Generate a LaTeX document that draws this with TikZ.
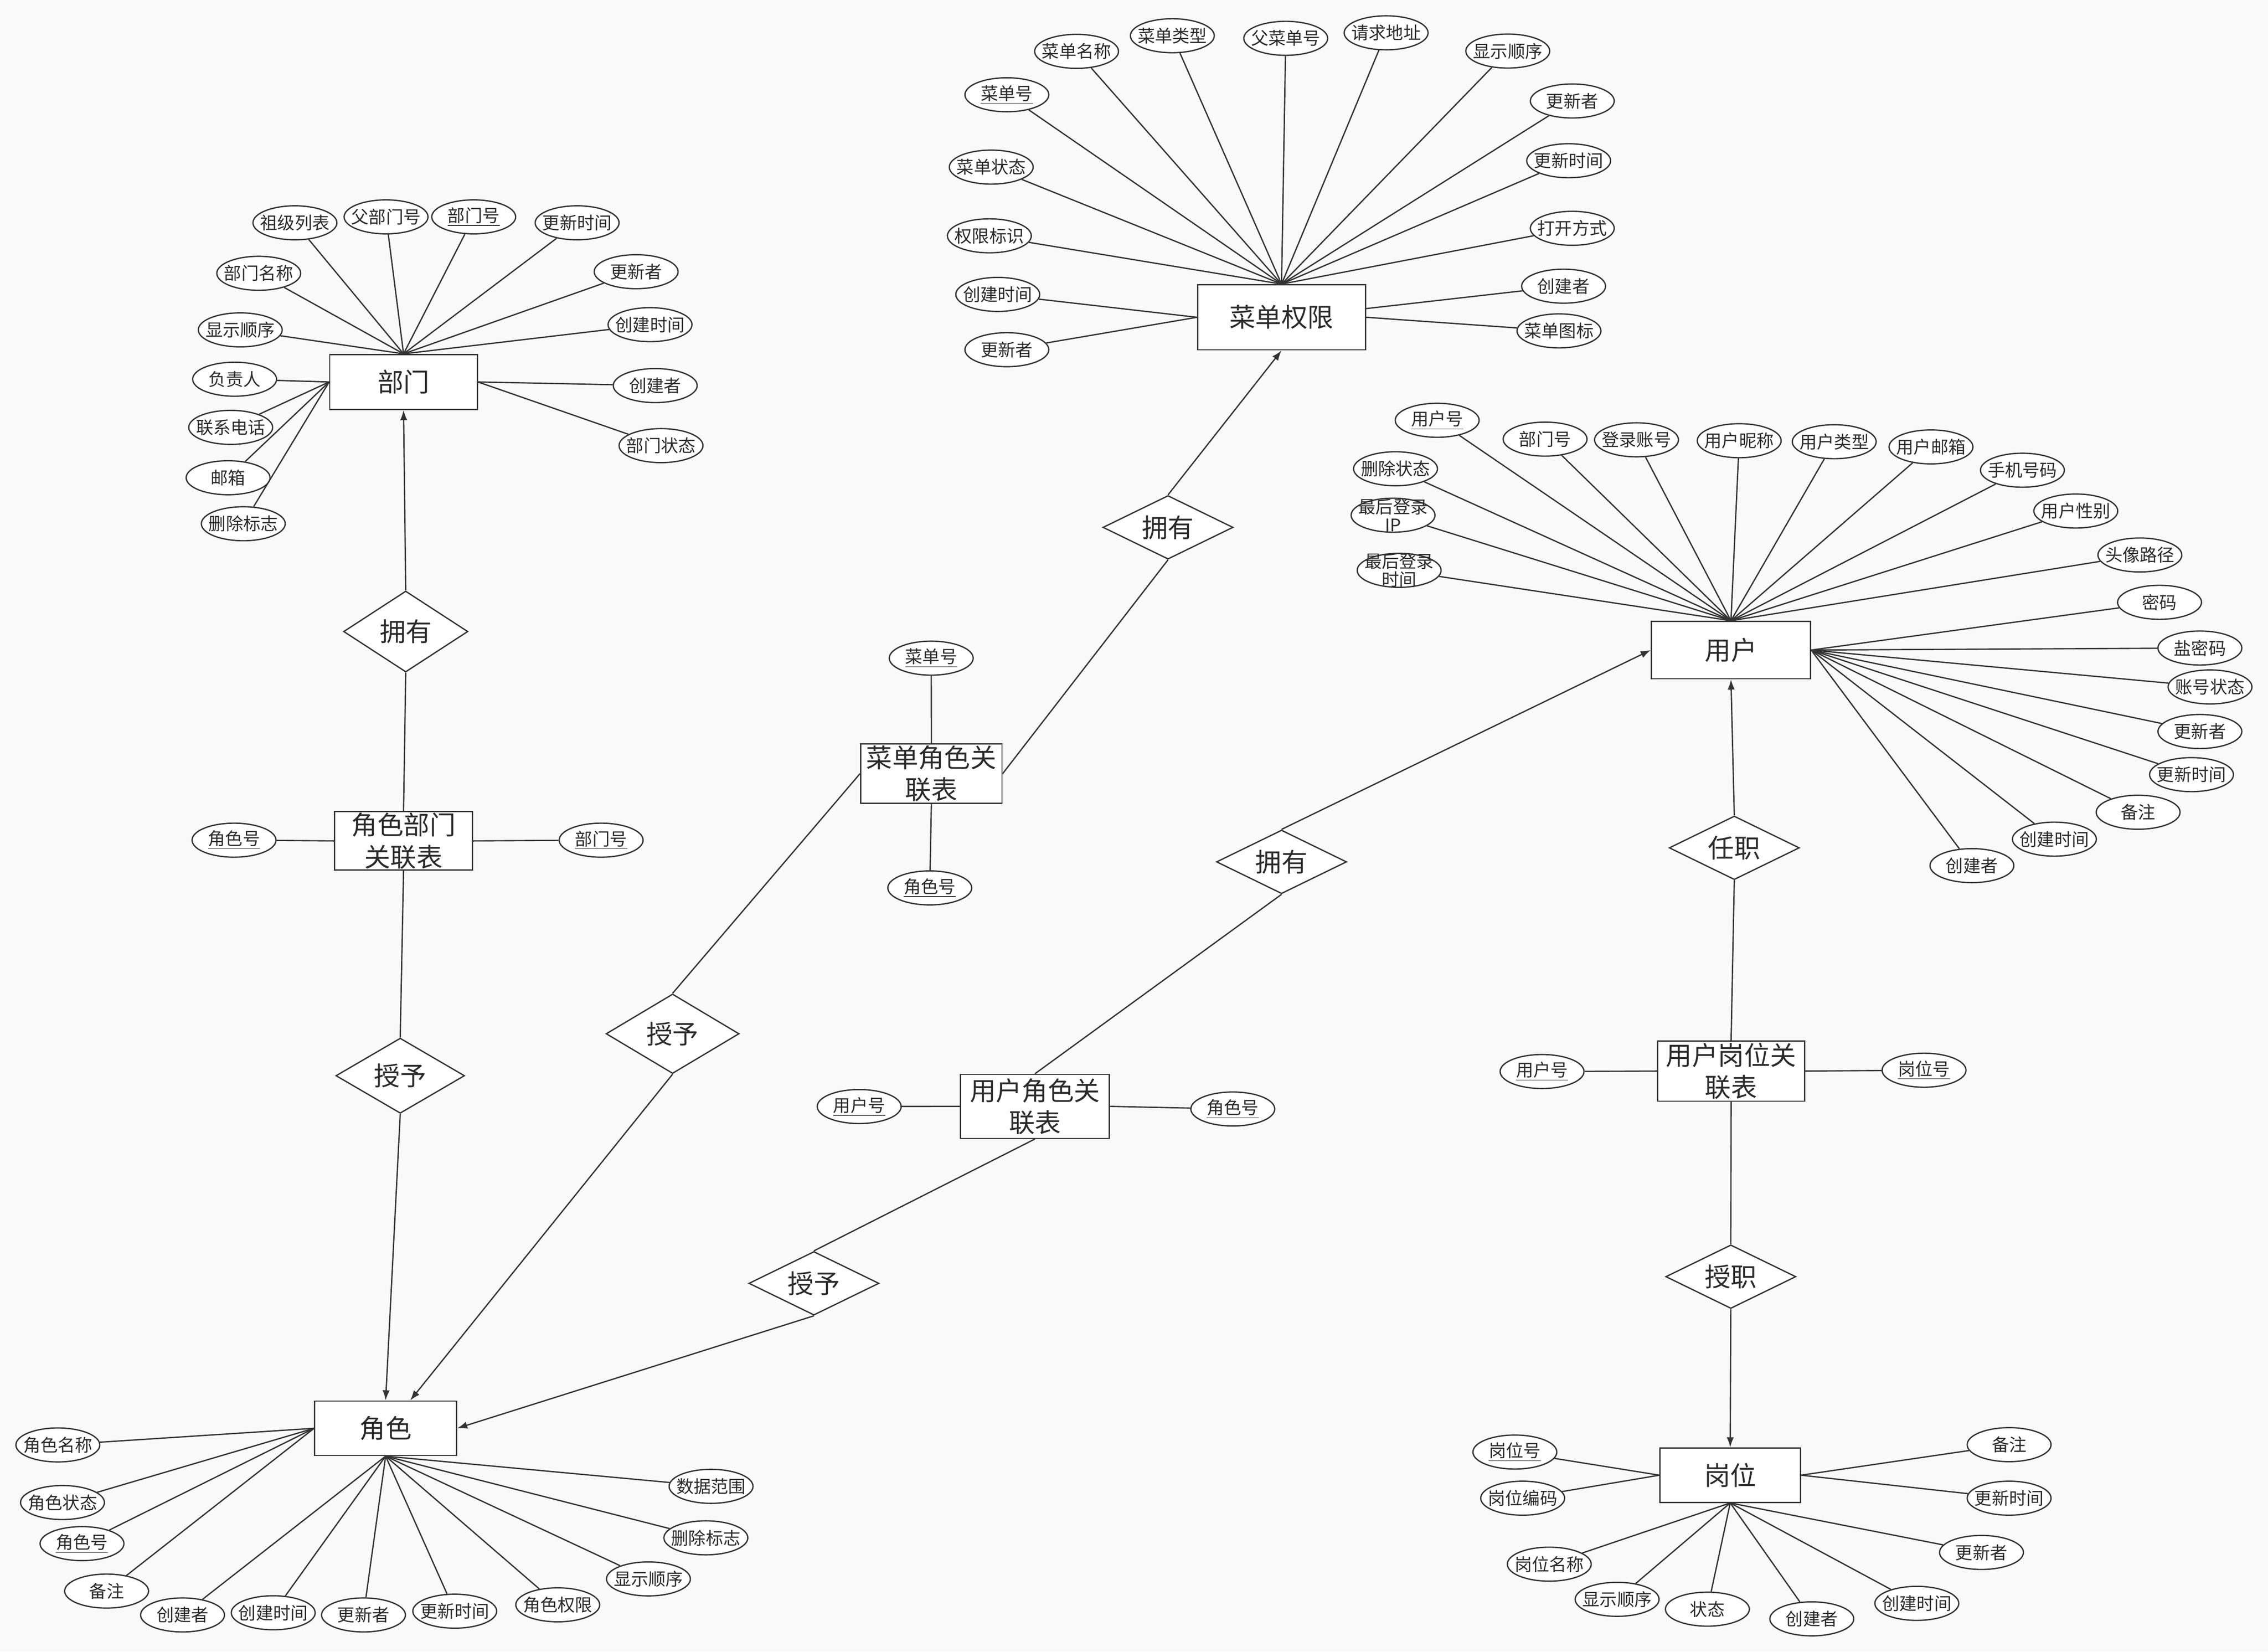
\documentclass[tikz,border=0pt]{standalone}
\usepackage{fontspec}
\setmainfont{Noto Sans CJK SC}
\usetikzlibrary{shapes.geometric,arrows.meta,calc}
\definecolor{bgc}{HTML}{F9F9F9}
\definecolor{lc}{HTML}{333333}
\definecolor{tc}{HTML}{2B2B2B}
\tikzset{
  entity/.style={draw=lc, fill=white, line width=0.9pt, rectangle, inner sep=0pt, align=center, text=tc, font=\fontsize{18}{22}\selectfont},
  attr/.style={draw=lc, fill=white, line width=0.9pt, ellipse, minimum width=58pt, minimum height=23.5pt, inner xsep=-4pt, inner ysep=0pt, text=tc, font=\fontsize{12}{12.5}\selectfont},
  rel/.style={draw=lc, fill=white, line width=0.9pt, diamond, aspect=2, inner sep=0pt, text=tc, font=\fontsize{18}{22}\selectfont},
  conn/.style={draw=lc, line width=0.9pt},
  arr/.style={conn, -{Latex[length=7pt,width=5pt]}},
  twoline/.style={label={[text=tc, align=center, font=\fontsize{12}{12.5}\selectfont]center:#1}}
}
\begin{document}
\begin{tikzpicture}[x=1pt,y=-1pt]
\fill[bgc] (0,0) rectangle (1568,1141.6);
\useasboundingbox (0,0) rectangle (1568,1141.6);

% ---------- entities ----------
\node[entity, minimum width=102pt, minimum height=38pt] (dept) at (279,264) {部门};
\node[entity, minimum width=116pt, minimum height=45pt] (menu) at (886,219.3) {菜单权限};
\node[entity, minimum width=110pt, minimum height=39.7pt] (user) at (1196.7,449.3) {用户};
\node[entity, minimum width=98pt, minimum height=37.6pt] (role) at (266.6,987.2) {角色};
\node[entity, minimum width=97pt, minimum height=37.5pt] (post) at (1196.2,1019.6) {岗位};

\node[entity, minimum width=95.2pt, minimum height=40.4pt] (rd) at (279,581.2) {角色部门\\关联表};
\node[entity, minimum width=97.7pt, minimum height=41pt] (rm) at (643.9,534.7) {菜单角色关\\联表};
\node[entity, minimum width=103pt, minimum height=44.2pt] (ur) at (715.5,764.7) {用户角色关\\联表};
\node[entity, minimum width=101.7pt, minimum height=41.6pt] (up) at (1196.8,740.3) {用户岗位关\\联表};

% ---------- relationships ----------
\node[rel, minimum width=86pt, minimum height=56pt] (own1) at (280.5,436.5) {拥有};
\node[rel, minimum width=89pt, minimum height=52pt] (grant1) at (276.7,743.5) {授予};
\node[rel, minimum width=92pt, minimum height=55pt] (grant2) at (465,714.5) {授予};
\node[rel, minimum width=90pt, minimum height=44pt] (own2) at (807.5,364.5) {拥有};
\node[rel, minimum width=90pt, minimum height=44pt] (own3) at (886,595.7) {拥有};
\node[rel, minimum width=90pt, minimum height=44pt] (grant3) at (562.7,887) {授予};
\node[rel, minimum width=90pt, minimum height=44pt] (job) at (1199,586) {任职};
\node[rel, minimum width=90pt, minimum height=44pt] (assign) at (1196.6,882.4) {授职};

% ---------- relationship connectors ----------
\draw[arr] (own1.north) -- (dept.south);
\draw[conn] (rd.north) -- (own1.south);
\draw[conn] (rd.south) -- (grant1.north);
\draw[arr] (grant1.south) -- (role.north);
\draw[conn] (rm.east) -- (own2.south);
\draw[arr] (own2.north) -- (menu.south);
\draw[conn] (rm.west) -- (grant2.north);
\coordinate (roleN2) at ($(role.north)+(17,0)$);
\draw[arr] (grant2.south) -- (roleN2);
\draw[conn] (ur.north) -- (own3.south);
\draw[arr] (own3.north) -- (user.west);
\draw[conn] (ur.south) -- (grant3.north);
\draw[arr] (grant3.south) -- (role.east);
\draw[conn] (up.north) -- (job.south);
\draw[arr] (job.north) -- (user.south);
\draw[conn] (up.south) -- (assign.north);
\draw[arr] (assign.south) -- (post.north);

% ---------- 部门 attributes ----------
\node[attr] (d1) at (203.9,154) {祖级列表};
\node[attr] (d2) at (266.9,149.9) {父部门号};
\node[attr] (d3) at (327.5,149.9) {\underline{部门号}};
\node[attr] (d4) at (399,154) {更新时间};
\node[attr] (d5) at (178.9,188.9) {部门名称};
\node[attr] (d6) at (439.8,187.8) {更新者};
\node[attr] (d7) at (166.1,228) {显示顺序};
\node[attr] (d8) at (449.4,224.4) {创建时间};
\node[attr] (d9) at (162.2,262.1) {负责人};
\node[attr] (d10) at (453,266.5) {创建者};
\node[attr] (d11) at (159.5,295.4) {联系电话};
\node[attr] (d12) at (157.7,330.2) {邮箱};
\node[attr] (d13) at (457,308) {部门状态};
\node[attr] (d14) at (168.2,362) {删除标志};
\foreach \a in {d1,d2,d3,d4,d5,d6,d7,d8} \draw[conn] (\a) -- (dept.north);
\foreach \a in {d9,d11,d12,d14} \draw[conn] (\a) -- (dept.west);
\foreach \a in {d10,d13} \draw[conn] (\a) -- (dept.east);

% ---------- 菜单权限 attributes ----------
\node[attr] (m1) at (696.1,65.5) {\underline{菜单号}};
\node[attr] (m2) at (744.3,35.5) {菜单名称};
\node[attr] (m3) at (810.5,24.7) {菜单类型};
\node[attr] (m4) at (888.9,26.5) {父菜单号};
\node[attr] (m5) at (958.3,22.7) {请求地址};
\node[attr] (m6) at (1042.4,35.3) {显示顺序};
\node[attr] (m7) at (1087,69.8) {更新者};
\node[attr] (m8) at (685.3,115.5) {菜单状态};
\node[attr] (m9) at (1084.5,111.1) {更新时间};
\node[attr] (m10) at (684,163) {权限标识};
\node[attr] (m11) at (1087,157.8) {打开方式};
\node[attr] (m12) at (689.8,203.5) {创建时间};
\node[attr] (m13) at (1081,197.8) {创建者};
\node[attr] (m14) at (696.1,241.7) {更新者};
\node[attr] (m15) at (1077.8,228.7) {菜单图标};
\foreach \a in {m1,m2,m3,m4,m5,m6,m7,m8,m9,m10,m11} \draw[conn] (\a) -- (menu.north);
\foreach \a in {m12,m14} \draw[conn] (\a) -- (menu.west);
\coordinate (menuE2) at ($(menu.east)+(0,-6)$);
\draw[conn] (m13) -- (menuE2);
\draw[conn] (m15) -- (menu.east);

% ---------- 用户 attributes ----------
\node[attr] (u1) at (993.6,290.5) {\underline{用户号}};
\node[attr] (u2) at (1068.2,303.5) {部门号};
\node[attr] (u3) at (1131.4,304) {登录账号};
\node[attr] (u4) at (1202.4,304.6) {用户昵称};
\node[attr] (u5) at (1268.1,305.3) {用户类型};
\node[attr] (u6) at (1335,308.9) {用户邮箱};
\node[attr] (u7) at (1398.2,325) {手机号码};
\node[attr] (u8) at (964.8,324) {删除状态};
\node[attr, twoline={最后登录\\IP}] (u9) at (963.1,356.1) {};
\node[attr] (u10) at (1435.1,353.2) {用户性别};
\node[attr, twoline={最后登录\\时间}] (u11) at (967.3,394.2) {};
\node[attr] (u12) at (1479.4,383.6) {头像路径};
\node[attr] (u13) at (1493,416.3) {密码};
\node[attr] (u14) at (1520.9,447.9) {盐密码};
\node[attr] (u15) at (1527.9,474.8) {账号状态};
\node[attr] (u16) at (1520.9,505.6) {更新者};
\node[attr] (u17) at (1515.1,535.4) {更新时间};
\node[attr] (u18) at (1478.2,561.4) {备注};
\node[attr] (u19) at (1420.3,580) {创建时间};
\node[attr] (u20) at (1363.3,598.3) {创建者};
\foreach \a in {u1,u2,u3,u4,u5,u6,u7,u8,u9,u10,u11,u12} \draw[conn] (\a) -- (user.north);
\foreach \a in {u13,u14,u15,u16,u17,u18,u19,u20} \draw[conn] (\a) -- (user.east);

% ---------- 角色 attributes ----------
\node[attr] (r1) at (40,998.7) {角色名称};
\node[attr] (r2) at (43.2,1038.5) {角色状态};
\node[attr] (r3) at (56.7,1066.9) {\underline{角色号}};
\node[attr] (r4) at (73.7,1099.7) {备注};
\node[attr] (r5) at (126.2,1116.2) {创建者};
\node[attr] (r6) at (188.9,1114.7) {创建时间};
\node[attr] (r7) at (251.3,1116.2) {更新者};
\node[attr] (r8) at (314.4,1113.6) {更新时间};
\node[attr] (r9) at (385.6,1109.2) {角色权限};
\node[attr] (r10) at (448.3,1091.3) {显示顺序};
\node[attr] (r11) at (488,1062.9) {删除标志};
\node[attr] (r12) at (491.6,1027.3) {数据范围};
\foreach \a in {r1,r2,r3,r4} \draw[conn] (\a) -- (role.west);
\foreach \a in {r5,r6,r7,r8,r9,r10,r11,r12} \draw[conn] (\a) -- (role.south);

% ---------- 岗位 attributes ----------
\node[attr] (p1) at (1047.3,1003.6) {\underline{岗位号}};
\node[attr] (p2) at (1052.7,1035.5) {岗位编码};
\node[attr] (p3) at (1071.1,1081.1) {岗位名称};
\node[attr] (p4) at (1118,1105.4) {显示顺序};
\node[attr] (p5) at (1180.4,1112.2) {状态};
\node[attr] (p6) at (1252.6,1118.9) {创建者};
\node[attr] (p7) at (1325.2,1108.2) {创建时间};
\node[attr] (p8) at (1369.9,1073) {更新者};
\node[attr] (p9) at (1389,1035.5) {更新时间};
\node[attr] (p10) at (1389,998.5) {备注};
\foreach \a in {p1,p2} \draw[conn] (\a) -- (post.west);
\foreach \a in {p9,p10} \draw[conn] (\a) -- (post.east);
\foreach \a in {p3,p4,p5,p6,p7,p8} \draw[conn] (\a) -- (post.south);

% ---------- association table attributes ----------
\node[attr] (rd1) at (161.8,580.7) {\underline{角色号}};
\node[attr] (rd2) at (415.6,580.7) {\underline{部门号}};
\draw[conn] (rd1) -- (rd.west);
\draw[conn] (rd2) -- (rd.east);

\node[attr] (rm1) at (643.8,454.9) {\underline{菜单号}};
\node[attr] (rm2) at (642.8,613.7) {\underline{角色号}};
\draw[conn] (rm1) -- (rm.north);
\draw[conn] (rm2) -- (rm.south);

\node[attr] (ur1) at (594,764.8) {\underline{用户号}};
\node[attr] (ur2) at (852.3,766.5) {\underline{角色号}};
\draw[conn] (ur1) -- (ur.west);
\draw[conn] (ur2) -- (ur.east);

\node[attr] (up1) at (1066.1,740.6) {\underline{用户号}};
\node[attr] (up2) at (1330.2,739.7) {\underline{岗位号}};
\draw[conn] (up1) -- (up.west);
\draw[conn] (up2) -- (up.east);
\end{tikzpicture}
\end{document}
